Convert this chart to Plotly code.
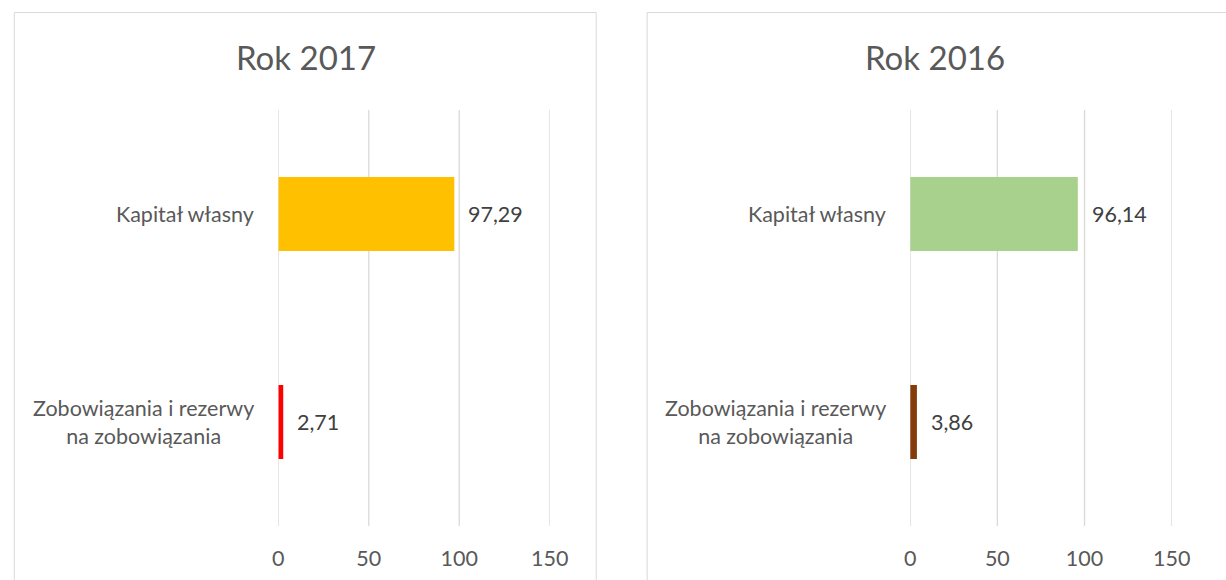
import plotly.graph_objects as go

W, H = 1226, 580

categories = ["Kapitał własny", "Zobowiązania i rezerwy na zobowiązania"]
category_labels = ["Kapitał własny", "Zobowiązania i rezerwy<br>na zobowiązania"]
values_2017 = [97.29, 2.71]
values_2016 = [96.14, 3.86]
colors_2017 = ["#FFC000", "#FF0000"]
colors_2016 = ["#A9D18E", "#843C0C"]
titles = ["Rok 2017", "Rok 2016"]
x_ticks = [0, 50, 100, 150]

FONT = "Lato, 'Open Sans', sans-serif"
GRID = "#D9D9D9"
TXT = "#595959"
LBL = "#404040"
FS = 21.5

fig = go.Figure()

panels = [
    dict(vals=values_2017, cols=colors_2017, xa="x", ya="y", xd=[278 / W, 555 / W]),
    dict(vals=values_2016, cols=colors_2016, xa="x2", ya="y2", xd=[923 / W, 1190 / W]),
]
ydom = [1 - 526 / H, 1 - 110 / H]

shapes = [
    dict(type="rect", xref="paper", yref="paper",
         x0=8.5 / W, x1=602.5 / W, y0=-0.1, y1=1 - 12.5 / H,
         line=dict(color=GRID, width=1), layer="below"),
    dict(type="rect", xref="paper", yref="paper",
         x0=654.5 / W, x1=1.1, y0=-0.1, y1=1 - 12.5 / H,
         line=dict(color=GRID, width=1), layer="below"),
]

for p in panels:
    # vertical gridlines at the tick values
    for t in x_ticks:
        shapes.append(dict(
            type="line", xref=p["xa"], yref=p["ya"] + " domain",
            x0=t, x1=t, y0=0, y1=1,
            line=dict(color=GRID, width=1.3), layer="below",
        ))
    fig.add_trace(go.Bar(
        x=p["vals"], y=categories, orientation="h",
        marker=dict(color=p["cols"], line=dict(width=0)),
        xaxis=p["xa"], yaxis=p["ya"], hoverinfo="skip",
        showlegend=False,
    ))
    # data labels
    for v, c in zip(p["vals"], categories):
        fig.add_annotation(
            x=v, y=c, xref=p["xa"], yref=p["ya"],
            text=f"{v:.2f}".replace(".", ","), showarrow=False,
            xanchor="left", yanchor="middle", xshift=12,
            font=dict(family=FONT, size=FS, color=LBL),
        )
    # category labels
    for lab, c in zip(category_labels, categories):
        fig.add_annotation(
            x=0, y=c, xref=p["xa"] + " domain", yref=p["ya"],
            text=lab, showarrow=False, align="center",
            xanchor="right", yanchor="middle", xshift=-22,
            font=dict(family=FONT, size=FS, color=TXT),
        )

axis_common_x = dict(
    range=[0, 150], tickvals=x_ticks, ticktext=[str(t) for t in x_ticks],
    showgrid=False, zeroline=False,
    showline=False, ticks="", ticklabelstandoff=17,
    tickfont=dict(family=FONT, size=FS, color=TXT), fixedrange=True,
)
axis_common_y = dict(
    categoryorder="array", categoryarray=categories[::-1],
    showticklabels=False, showgrid=False, zeroline=False, showline=False,
    ticks="", domain=ydom, fixedrange=True,
)

fig.update_layout(
    width=W, height=H, autosize=False,
    margin=dict(l=0, r=0, t=0, b=0),
    paper_bgcolor="white", plot_bgcolor="rgba(0,0,0,0)",
    bargap=0.644,
    xaxis=dict(domain=panels[0]["xd"], anchor="y", **axis_common_x),
    yaxis=dict(anchor="x", **axis_common_y),
    xaxis2=dict(domain=panels[1]["xd"], anchor="y2", **axis_common_x),
    yaxis2=dict(anchor="x2", **axis_common_y),
    shapes=shapes,
)

# titles
for t, cx in zip(titles, [306, 948]):
    fig.add_annotation(
        x=cx / W, y=1 - 57 / H, xref="paper", yref="paper",
        text=t, showarrow=False, xanchor="center", yanchor="middle",
        font=dict(family=FONT, size=33, color=TXT),
    )

fig.write_html(
    "out.html",
    config={"displayModeBar": False, "responsive": False},
    post_script="document.body.style.margin='0';document.body.style.overflow='hidden';",
)
